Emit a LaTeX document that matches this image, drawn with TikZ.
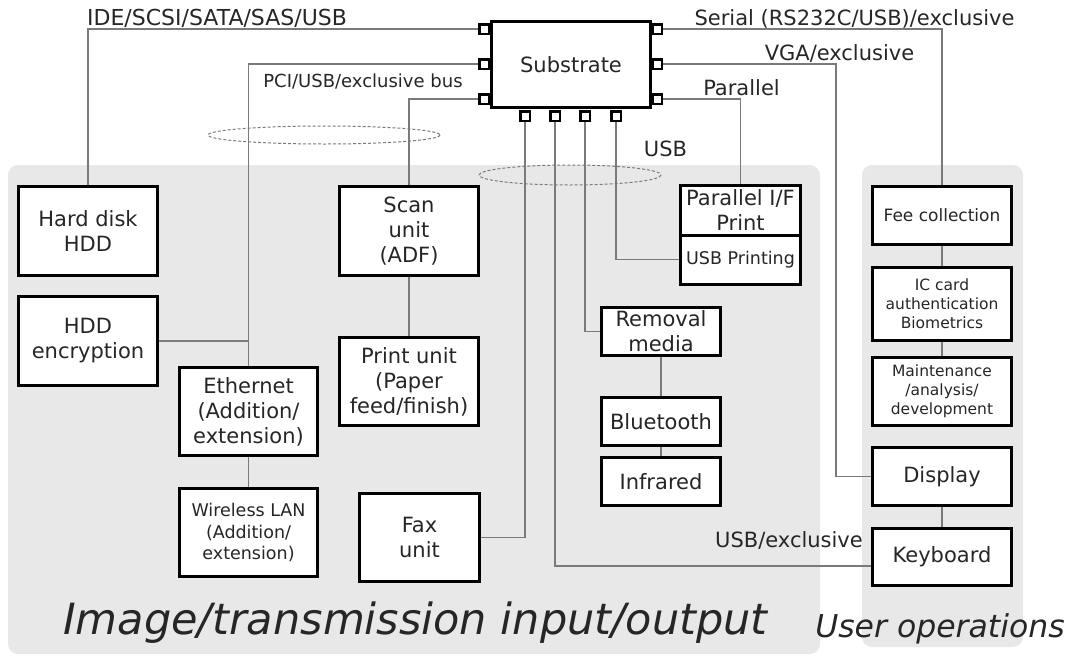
\documentclass[tikz,border=0pt]{standalone}
\usepackage{fontspec}
\setmainfont{DejaVu Sans}
\usepackage{tikz}
\usetikzlibrary{positioning}
\newcommand{\fsz}[2]{\fontsize{#1}{#2}\selectfont}
\definecolor{panelgray}{HTML}{E8E8E8}
\definecolor{wiregray}{HTML}{7A7A7A}

\begin{document}
\begin{tikzpicture}[x=1pt,y=-1pt]
\tikzstyle{unit}=[rectangle, draw=black, line width=3pt, fill=white, align=center, inner sep=1pt, text=black!85, font=\fsz{21}{25}]
\tikzstyle{port}=[rectangle, draw=black, line width=2.5pt, fill=white, minimum size=9.5pt, inner sep=0pt]
\tikzstyle{wire}=[draw=wiregray, line width=1.2pt]
\tikzstyle{bus}=[draw=wiregray, line width=1pt, dash pattern=on 3pt off 2pt]
\tikzstyle{lbl}=[inner sep=0pt, anchor=base, text=black!85, font=\fsz{21}{25}]
\tikzstyle{area}=[fill=panelgray, rounded corners=10pt]
\useasboundingbox (0,0) rectangle (1071,656);

% panels
\fill[area] (8,165) rectangle (820,654);
\fill[area] (862,165) rectangle (1023,647);
\draw[bus] (324,135) ellipse (116 and 9);
\draw[bus] (570,175) ellipse (91 and 10);

% substrate and its ports
\node[unit, minimum width=159pt, minimum height=86pt] (sub) at (571,64.5) {Substrate};
\node[port] (pl1) at (484,29) {};
\node[port] (pl2) at (484,64) {};
\node[port] (pl3) at (484,99) {};
\node[port] (pr1) at (657,29) {};
\node[port] (pr2) at (657,64) {};
\node[port] (pr3) at (657,99) {};
\node[port] (pb1) at (525,116) {};
\node[port] (pb2) at (555,116) {};
\node[port] (pb3) at (585,116) {};
\node[port] (pb4) at (616,116) {};

% image/transmission units
\node[unit, minimum width=139pt, minimum height=89pt] (hdd) at (88,231) {Hard disk\\HDD};
\node[unit, minimum width=139pt, minimum height=89pt] (hddenc) at (88,341) {HDD\\encryption};
\node[unit, minimum width=138pt, minimum height=88pt] (eth) at (248.5,411.5) {Ethernet\\(Addition/\\extension)};
\node[unit, minimum width=138pt, minimum height=88pt, font=\fsz{17.5}{21.5}] (wlan) at (248.5,532.5) {Wireless LAN\\(Addition/\\extension)};
\node[unit, minimum width=139pt, minimum height=89pt] (scan) at (409,231) {Scan\\unit\\(ADF)};
\node[unit, minimum width=139pt, minimum height=88pt] (print) at (409,381.5) {Print unit\\(Paper\\feed/finish)};
\node[unit, minimum width=120pt, minimum height=88pt] (fax) at (419.5,537.5) {Fax\\unit};
\node[unit, minimum width=120pt, minimum height=49.5pt] (par) at (740.5,210.25) {Parallel I/F\\Print};
\node[unit, minimum width=120pt, minimum height=49.5pt, font=\fsz{17.5}{21}] (usbp) at (740.5,259.75) {USB Printing};
\node[unit, minimum width=119pt, minimum height=48pt] (rem) at (661,331.5) {Removal\\media};
\node[unit, minimum width=119pt, minimum height=48pt] (bt) at (661,421.5) {Bluetooth};
\node[unit, minimum width=119pt, minimum height=48pt] (ir) at (661,481.5) {Infrared};

% user operation units
\node[unit, minimum width=139pt, minimum height=58pt, font=\fsz{17}{21}] (fee) at (942,215.5) {Fee collection};
\node[unit, minimum width=139pt, minimum height=73pt, font=\fsz{15.5}{19}] (ic) at (942,304) {IC card\\authentication\\Biometrics};
\node[unit, minimum width=139pt, minimum height=68pt, font=\fsz{15.5}{19}] (mnt) at (942,391.5) {Maintenance\\/analysis/\\development};
\node[unit, minimum width=139pt, minimum height=58pt] (disp) at (942,476.5) {Display};
\node[unit, minimum width=139pt, minimum height=57pt] (kbd) at (942,557) {Keyboard};

% bus labels
\node[lbl, font=\fsz{22}{25}] (lide) at (217,25) {IDE/SCSI/SATA/SAS/USB};
\node[lbl, font=\fsz{18}{22}] (lpci) at (363,87) {PCI/USB/exclusive bus};
\node[lbl] (lser) at (854.5,25) {Serial (RS232C/USB)/exclusive};
\node[lbl] (lvga) at (839.5,60) {VGA/exclusive};
\node[lbl] (lpar) at (741.5,95) {Parallel};
\node[lbl] (lusb) at (665.5,156) {USB};
\node[lbl] (lkbd) at (789,547) {USB/exclusive};

% area titles
\node[lbl, font=\fsz{43}{50}\itshape] (tio) at (415.5,634) {Image/transmission input/output};
\node[lbl, font=\fsz{31.5}{36}\itshape] (tuo) at (940,637) {User operations};

\draw[wire] (pl1) -| (hdd);
\draw[wire] (pl2) -| (eth);
\draw[wire] (pl3) -| (scan);
\draw[wire] (pr1) -| (fee);
\draw[wire] (pr2) -| ([xshift=-35pt]disp.west) -- (disp.west);
\draw[wire] (pr3) -| (par);
\draw[wire] (pb1) |- (fax);
\draw[wire] (pb2) |- ([yshift=-9pt]kbd.west);
\draw[wire] (pb3) |- (rem);
\draw[wire] (pb4) |- (usbp);
\draw[wire] (hddenc) -- (hddenc -| eth);

\path[wire]
	(scan) edge (print)
	(eth) edge (wlan)
	(rem) edge (bt)
	(bt) edge (ir)
	(fee) edge (ic)
	(ic) edge (mnt)
	(disp) edge (kbd);

\end{tikzpicture}
\end{document}
